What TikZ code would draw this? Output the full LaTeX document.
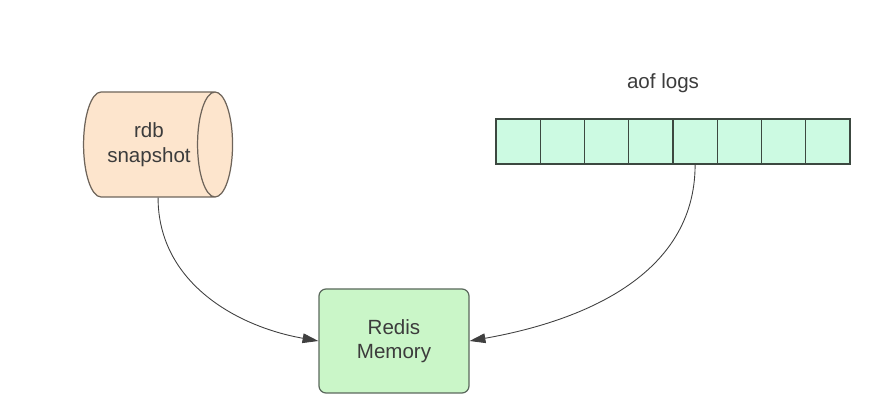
\documentclass[tikz,border=0pt]{standalone}
\usepackage{fontspec}
\setmainfont{Liberation Sans}
\definecolor{rdbpeach}{RGB}{253, 229, 205}
\definecolor{rdbline}{RGB}{110, 100, 90}
\definecolor{aofmint}{RGB}{204, 250, 226}
\definecolor{aofline}{RGB}{60, 72, 64}
\definecolor{memgreen}{RGB}{202, 246, 200}
\definecolor{memline}{RGB}{90, 104, 92}
\definecolor{txtgray}{RGB}{60, 60, 60}
\usetikzlibrary{shapes.geometric, arrows.meta, positioning}

\begin{document}
\begin{tikzpicture}[x=0.02cm, y=0.02cm,
  every node/.style={font=\fontsize{11.7}{14}\selectfont, text=txtgray, align=center},
  logcell/.style={draw=aofline, fill=aofmint, line width=0.7pt, minimum width=44.25*0.02cm, minimum height=45*0.02cm, inner sep=0pt},
  loadarrow/.style={draw=black!75, line width=0.5pt, -{Triangle[length=9pt, width=5.5pt]}}]
  \useasboundingbox (0,0) rectangle (883,419);
  % rdb file on disk
  \node[cylinder, draw=rdbline, fill=rdbpeach, line width=0.7pt, aspect=0.8,
        minimum width=105*0.02cm, minimum height=149*0.02cm, shape border rotate=0,
        inner sep=0pt] (rdb) at (149,274.5) {rdb\\snapshot};
  % aof log entries
  \foreach \i in {1,...,8}
    \node[logcell] (cell\i) at ({496+44.25*(\i-0.5)},277.5) {};
  \node (aoflabel) at (663,336) {aof logs};
  % memory
  \node[draw=memline, fill=memgreen, line width=0.7pt, rounded corners=4pt,
        minimum width=150*0.02cm, minimum height=104*0.02cm] (mem) at (394,78) {Redis\\Memory};
  \draw[loadarrow] (rdb.shape center |- rdb.south) to[out=-90, in=170] (mem.west);
  \draw[loadarrow] (cell5.south) to[out=-90, in=10] (mem.east);
\end{tikzpicture}
\end{document}
